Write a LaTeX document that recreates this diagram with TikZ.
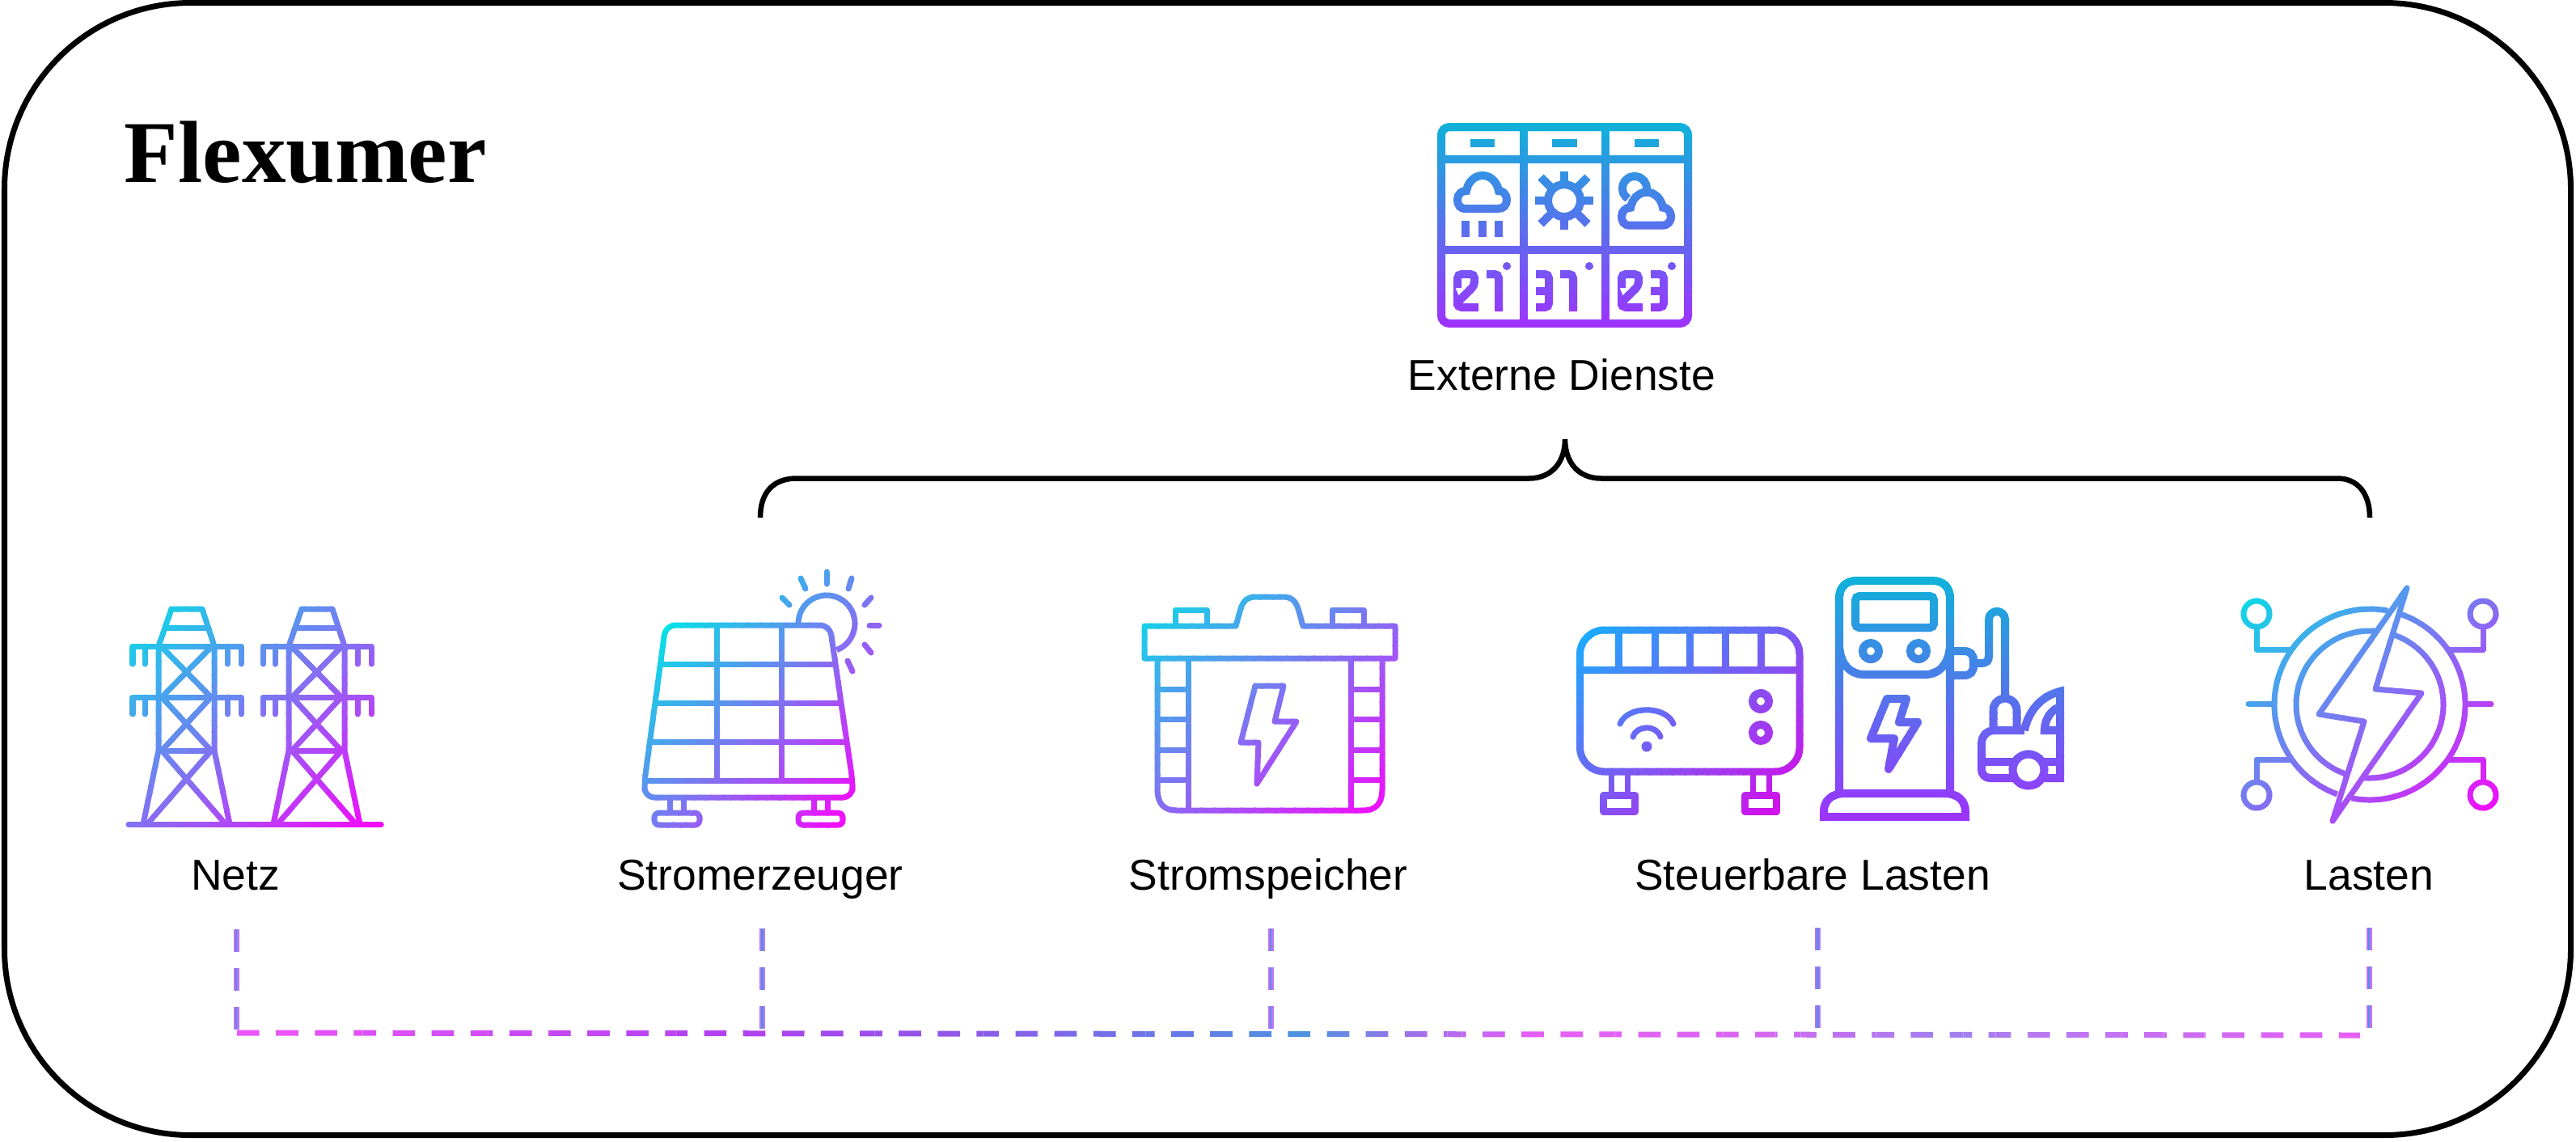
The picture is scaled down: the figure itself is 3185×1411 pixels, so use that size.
\documentclass[tikz,border=0pt]{standalone}
\usepackage{fontspec}
\setmainfont{Liberation Sans}
\newfontfamily\titlefont{Liberation Serif}

\definecolor{iconCyan}{HTML}{00E5E5}
\definecolor{iconMagenta}{HTML}{FF00FF}
\definecolor{heatBlue}{HTML}{10B4FF}
\definecolor{heatPink}{HTML}{E400E8}
\definecolor{skyTop}{HTML}{0DB4D9}
\definecolor{skyBottom}{HTML}{A030FF}
\definecolor{busA}{HTML}{EE55FA}
\definecolor{busB}{HTML}{B040F0}
\definecolor{busC}{HTML}{9058E8}
\definecolor{busD}{HTML}{6878E8}
\definecolor{busE}{HTML}{4C94E0}
\definecolor{busF}{HTML}{A070E8}
\definecolor{busG}{HTML}{E85CF8}
\definecolor{busH}{HTML}{D868F0}
\definecolor{busI}{HTML}{A080F0}
\definecolor{busJ}{HTML}{B878F0}
\definecolor{stubOuter}{HTML}{BE74F4}
\definecolor{stubInner}{HTML}{5A8CE8}

\tikzset{
  busline/.style={line width=0.07cm, dash pattern=on 0.277cm off 0.204cm},
  busstub/.style={line width=0.07cm, dash pattern=on 0.28cm off 0.2cm, stubOuter},
  busstubcore/.style={line width=0.025cm, dash pattern=on 0.28cm off 0.2cm, stubInner},
  buslabel/.style={anchor=base, font=\fontsize{15.2}{18}\selectfont}
}

% Verlauf: Symbol in schmalen Streifen einfaerben
\newcommand{\diagicon}[9]{%
  \foreach \i in {0,...,39} {
    \pgfmathsetmacro{\ua}{2*\i/40}
    \pgfmathsetmacro{\ub}{2*(\i+1.15)/40}
    \pgfmathsetmacro{\pct}{min(100,max(0,((\i+0.5)/40-#8)/(#9-#8)*100))}
    \begin{scope}
      \clip (#4+\ua*#6,#5) -- (#4+\ub*#6,#5) -- (#4,#5+\ub*#7) -- (#4,#5+\ua*#7) -- cycle;
      \colorlet{bandcol}{#3!\pct!#2}
      \begin{scope}[color=bandcol]
        #1
      \end{scope}
    \end{scope}
  }
}
\newcommand{\verticon}[7]{%
  \foreach \i in {0,...,39} {
    \pgfmathsetmacro{\ua}{#5+\i*#7/40}
    \pgfmathsetmacro{\ub}{#5+(\i+1.15)*#7/40}
    \pgfmathsetmacro{\pct}{(\i+0.5)*2.5}
    \begin{scope}
      \clip (#4,\ua) rectangle (#4+#6,\ub);
      \colorlet{bandcol}{#3!\pct!#2}
      \begin{scope}[color=bandcol]
        #1
      \end{scope}
    \end{scope}
  }
}

\newcommand{\cloudshape}{(1812,258) .. controls (1805,258) and (1802,253) .. (1802,247) .. controls (1802,240) and (1807,236) .. (1813,236) .. controls (1815,225) and (1823,217) .. (1833,217) .. controls (1843,217) and (1851,225) .. (1853,236) .. controls (1859,236) and (1863,241) .. (1863,247) .. controls (1863,253) and (1859,258) .. (1853,258) -- cycle}
\newcommand{\zweiglyph}{(1802,356) -- (1802,339) -- (1823,339) -- (1823,353) -- (1802,374) -- (1802,380) -- (1828,380)}
\newcommand{\dreiglyph}{(1899,339) -- (1915,339) -- (1915,380) -- (1899,380)}

% Netz
\newcommand{\netzicon}{%
  \begin{scope}[line width=0.07cm, line join=round]
  \draw[line cap=round] (159,1019) -- (471,1019);
  \foreach \dx in {0,161} {
    \begin{scope}[shift={(\dx,0)}]
      \draw (196,799) -- (212,753) -- (250,753) -- (265,799);
      \draw (204,776) -- (257,776);
      \foreach \y/\e in {799/821,862/883} {
        \draw[line cap=round] (164,\e) -- (164,\y) -- (298,\y) -- (298,\e);
        \draw[line cap=round] (179,\y) -- (179,\e);
        \draw[line cap=round] (281,\y) -- (281,\e);
      }
      \draw (196,799) -- (196,928) -- (177,1019);
      \draw (265,799) -- (265,928) -- (284,1019);
      \draw (196,928) -- (265,928);
      \draw (200,800) -- (261,862) -- (200,928) -- (279,1019);
      \draw (261,800) -- (200,862) -- (261,928) -- (182,1019);
    \end{scope}
  }
  \end{scope}
}

% Stromerzeuger
\newcommand{\solaricon}{%
  \begin{scope}[line width=0.07cm, line join=round]
  \draw[rounded corners=0.12cm] (823,773) -- (1026,773) -- (1054,965) -- (1054,986) -- (797,986) -- (797,965) -- cycle;
  \foreach \y/\a/\b in {821/816.5/1033,869/810/1040,917/803.5/1047,965/797/1054}
    \draw (\a,\y) -- (\b,\y);
  \foreach \x in {886,966}
    \draw (\x,773) -- (\x,965);
  \foreach \x in {828,845,1006,1023}
    \draw (\x,986) -- (\x,1004);
  \draw[rounded corners=0.06cm] (809,1005) rectangle (865,1020);
  \draw[rounded corners=0.06cm] (987,1005) rectangle (1042,1020);
  % Sonne
  \draw (987,771) arc[start angle=180, end angle=429, radius=35];
  \foreach \xa/\ya/\xb/\yb in {1022/707/1022/722,990/715/996/728,1053/715/1049/728,967/739/976/748,1077/739/1069/748,1075/773/1087/773,1069/797/1077/807,1048/817/1054/830}
    \draw[line cap=round] (\xa,\ya) -- (\xb,\yb);
  \end{scope}
}

% Stromspeicher
\newcommand{\speichericon}{%
  \begin{scope}[line width=0.07cm, line join=round]
  \draw (1415,774) -- (1528,774) .. controls (1535,750) and (1535,738) .. (1553,738) -- (1586,738) .. controls (1604,738) and (1604,750) .. (1611,774) -- (1725,774) -- (1725,814) -- (1415,814) -- cycle;
  \draw (1453,774) -- (1453,754) -- (1492,754) -- (1492,774);
  \draw (1647,774) -- (1647,754) -- (1686,754) -- (1686,774);
  \draw (1431,814) -- (1431,975) .. controls (1431,995) and (1440,1002) .. (1455,1002) -- (1685,1002) .. controls (1700,1002) and (1709,995) .. (1709,975) -- (1709,814);
  \foreach \x in {1469,1670}
    \draw (\x,814) -- (\x,1002);
  \foreach \y in {852,889,927,964} {
    \draw (1431,\y) -- (1469,\y);
    \draw (1670,\y) -- (1709,\y);
  }
  \draw (1552,848) -- (1587,848) -- (1576,892) -- (1603,892) -- (1554,969) -- (1556,918) -- (1534,918) -- cycle;
  \end{scope}
}

% Steuerbare Lasten: Heizung
\newcommand{\heizungicon}{%
  \begin{scope}[line width=0.09cm, line join=round]
  \draw[rounded corners=0.3cm] (1953.5,779) rectangle (2225,954);
  \draw (1953.5,828) -- (2225,828);
  \foreach \x in {2001,2046,2089,2133,2177}
    \draw (\x,779) -- (\x,828);
  \foreach \x in {1992,2012,2167,2187}
    \draw[line width=0.07cm] (\x,954) -- (\x,982);
  \draw (1982.5,983.5) rectangle (2021.5,1003);
  \draw (2157.5,983.5) rectangle (2196.5,1003);
  \foreach \y in {867,906}
    \draw[line width=0.1cm] (2177,\y) circle[radius=10];
  \fill (2036,923) circle[radius=6.5];
  \draw[line width=0.07cm, line cap=round] (2003,895) .. controls (2012,872) and (2060,872) .. (2069,895);
  \draw[line width=0.07cm, line cap=round] (2019,911) .. controls (2024,896) and (2048,896) .. (2053,911);
  \end{scope}
}

% Steuerbare Lasten: Ladesaeule
\newcommand{\ladericon}{%
  \begin{scope}[line width=0.1cm]
  \draw (2274,981) -- (2274,740) .. controls (2274,726) and (2282,718) .. (2296,718) -- (2389,718) .. controls (2403,718) and (2411,726) .. (2411,740) -- (2411,981);
  \draw (2255,1010) -- (2255,1003) .. controls (2255,990) and (2265,981) .. (2280,981) -- (2405,981) .. controls (2420,981) and (2430,990) .. (2430,1003) -- (2430,1010) -- cycle;
  \draw (2274,800) .. controls (2276,822) and (2288,834) .. (2305,834) -- (2380,834) .. controls (2397,834) and (2409,822) .. (2411,800);
  \draw[rounded corners=0.05cm] (2294,737) rectangle (2391,776);
  \foreach \x in {2313,2372}
    \draw (\x,805) circle[radius=10];
  \draw[line join=round] (2333,864) -- (2357,864) -- (2348,893) -- (2371,893) -- (2335,951) -- (2342,913) -- (2313,913) -- cycle;
  % Stecker und Kabel
  \draw (2411,805) -- (2428,805) .. controls (2436,805) and (2440,809) .. (2440,817) -- (2440,823) .. controls (2440,831) and (2436,835) .. (2428,835) -- (2411,835);
  \draw (2445,820) -- (2450,820) .. controls (2456,820) and (2459,817) .. (2459,811) -- (2459,766) arc[start angle=180, end angle=360, radius=10] -- (2479,862);
  \draw (2464.5,900) -- (2464.5,878) arc[start angle=180, end angle=360, radius=14.5] -- (2493.5,900);
  % Auto
  \draw (2503,903) .. controls (2508,878) and (2525,860) .. (2547,855) -- (2547,962) -- (2528,962);
  \draw (2503,903) -- (2467,903) .. controls (2456,903) and (2450,910) .. (2450,920) -- (2450,950) .. controls (2450,958) and (2454,962) .. (2462,962) -- (2489,962);
  \draw (2450,942) -- (2489,942);
  \draw (2527,942) -- (2547,942);
  \draw (2508,952) circle[radius=19.5];
  \draw (2547,874) .. controls (2535,878) and (2528,890) .. (2528,903) -- (2547,903);
  \end{scope}
}

% Lasten
\newcommand{\lastenicon}{%
  \begin{scope}[line width=0.07cm, line join=round]
  \begin{scope}[shift={(2930,871)}]
    \draw (289:118) arc[start angle=289, end angle=461, radius=118];
    \draw (110:118) arc[start angle=110, end angle=281, radius=118];
    \draw (290:91) arc[start angle=290, end angle=455, radius=91];
    \draw (109:91) arc[start angle=109, end angle=275, radius=91];
  \end{scope}
  \draw (2976,727) -- (2937,852) -- (2994,857) -- (2884,1015) -- (2923,892) -- (2867,883) -- cycle;
  \foreach \x/\y/\ya/\yb/\xb in {2790/759/777/803/2832,3070/759/777/803/3028,2790/983/965/939/2832,3070/983/965/939/3028} {
    \draw (\x,\y) circle[radius=16];
    \draw (\x,\ya) -- (\x,\yb) -- (\xb,\yb);
  }
  \draw[line cap=round] (2780,870) -- (2809,870);
  \draw[line cap=round] (3052,870) -- (3080,870);
  \end{scope}
}

% Externe Dienste
\newcommand{\wettericon}{%
  \begin{scope}[line width=0.1cm]
  \draw[rounded corners=0.1cm] (1782,157) rectangle (2087,400);
  \foreach \x in {1884,1985}
    \draw (\x,157) -- (\x,400);
  \foreach \y in {197,309}
    \draw (1782,\y) -- (2087,\y);
  \foreach \x/\xb in {1818/1848,1919/1950,2021/2051}
    \draw (\x,177) -- (\xb,177);
  % Wolken
  \draw \cloudshape;
  \foreach \x in {1812,1833,1853}
    \draw (\x,273) -- (\x,293);
  \begin{scope}[shift={(1934,248)}]
    \draw (0,0) circle[radius=20];
    \foreach \a/\r in {0/36,45/41,90/36,135/41,180/36,225/41,270/36,315/41}
      \draw (\a:22) -- (\a:\r);
  \end{scope}
  \draw (2021,233) ++(123:15) arc[start angle=123, end angle=365, radius=15];
  \begin{scope}[shift={(203,20.7)}]
    \draw \cloudshape;
  \end{scope}
  % Ziffern
  \draw[rounded corners=0.05cm] \zweiglyph;
  \draw[rounded corners=0.05cm] (1838,339) -- (1853,339) -- (1853,385);
  \draw[rounded corners=0.05cm] \dreiglyph;
  \draw (1899,360) -- (1915,360);
  \draw[rounded corners=0.05cm] (1929,339) -- (1945,339) -- (1945,385);
  \begin{scope}[shift={(203,0)}]
    \draw[rounded corners=0.05cm] \zweiglyph;
  \end{scope}
  \begin{scope}[shift={(142,0)}]
    \draw[rounded corners=0.05cm] \dreiglyph;
    \draw (1899,360) -- (1915,360);
  \end{scope}
  \foreach \x in {1863,1965,2067}
    \fill (\x,329) circle[radius=5];
  \end{scope}
}

\begin{document}
\begin{tikzpicture}[x=0.01cm, y=-0.01cm]
  \useasboundingbox (0,0) rectangle (3185,1411);
  % Rahmen
  \draw[line width=0.07cm, rounded corners=2.3cm] (5.5,3.5) rectangle (3178.5,1403.5);
  \node[anchor=base west, inner sep=0pt, font=\titlefont\bfseries\fontsize{31}{36}\selectfont] (flexumer) at (153,225) {Flexumer};
  % Symbole
  \verticon{\wettericon}{skyTop}{skyBottom}{1770}{150}{328}{256}
  \diagicon{\netzicon}{iconCyan}{iconMagenta}{150}{745}{330}{283}{0}{1}
  \diagicon{\solaricon}{iconCyan}{iconMagenta}{790}{700}{305}{328}{0.156}{0.93}
  \diagicon{\speichericon}{iconCyan}{iconMagenta}{1405}{730}{330}{280}{0}{1}
  \diagicon{\heizungicon}{heatBlue}{heatPink}{1945}{770}{290}{242}{0}{1}
  \verticon{\ladericon}{skyTop}{skyBottom}{2245}{712}{310}{306}
  \diagicon{\lastenicon}{iconCyan}{iconMagenta}{2760}{720}{340}{302}{0}{1}
  % Beschriftungen
  \foreach \name/\x/\y/\txt in {
    dienste/1931/482/Externe Dienste,
    netz/291/1100/Netz,
    erzeuger/940/1100/Stromerzeuger,
    speicher/1568/1100/Stromspeicher,
    steuerbar/2241/1100/Steuerbare Lasten,
    lasten/2929/1100/Lasten%
  }
  {
    \node[buslabel] (\name) at (\x,\y) {\txt};
  }
  % Klammer
  \coordinate (braceleft) at (940,640);
  \coordinate (bracetip) at (1935,543);
  \coordinate (braceright) at (2930,640);
  \draw[line width=0.065cm] (braceleft) .. controls (940,610) and (955,591.5) .. (985,591.5) -- (1890,591.5) .. controls (1920,591.5) and (1935,570) .. (bracetip) .. controls (1935,570) and (1950,591.5) .. (1980,591.5) -- (2890,591.5) .. controls (2915,591.5) and (2930,610) .. (braceright);
  % Leitungen
  \coordinate (busstart) at (293,1277);
  \coordinate (busend) at (2918,1280);
  \foreach \xa/\xb/\ca/\cb in {293/914/busA/busB,914/1182/busB/busC,1182/1450/busC/busD,1450/1610/busD/busE,1610/1754/busE/busF,1754/1896/busF/busG,1896/2164/busG/busH,2164/2414/busH/busI,2414/2521/busI/busJ,2521/2930/busJ/busG} {
    \foreach \i in {0,...,7} {
      \pgfmathsetmacro{\ua}{\xa+(\xb-\xa)*\i/8}
      \pgfmathsetmacro{\ub}{\xa+(\xb-\xa)*(\i+1)/8}
      \pgfmathsetmacro{\pct}{(\i+0.5)*12.5}
      \begin{scope}
        \clip (\ua,1265) rectangle (\ub,1292);
        \colorlet{bandcol}{\cb!\pct!\ca}
        \draw[busline, color=bandcol] (busstart) -- (busend);
      \end{scope}
    }
  }
  \foreach \name/\x/\y in {
    netz/292/1149,
    erzeuger/942.5/1148,
    speicher/1571/1148,
    steuerbar/2247.5/1147,
    lasten/2929/1147%
  }
  {
    \coordinate (\name top) at (\x,\y);
    \coordinate (\name bus) at (\x,\y+125);
    \draw[busstub] (\name top) -- (\name bus);
    \draw[busstubcore] (\name top) -- (\name bus);
  }
\end{tikzpicture}
\end{document}
